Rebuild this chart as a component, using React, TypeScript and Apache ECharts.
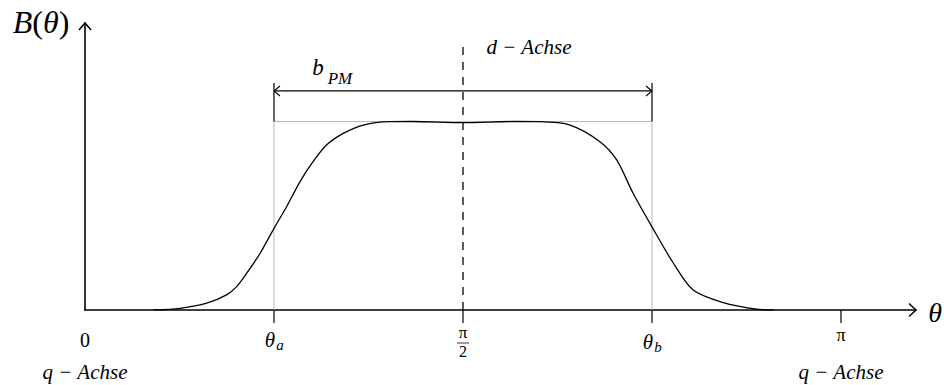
import React, { useEffect, useRef } from "react";
import * as echarts from "echarts";

// Flux density B(θ) over the pole pitch, θ in degrees (π = 180)
const thetaDeg = [
  16.3, 22.6, 29.0, 33.7, 36.1, 38.5, 41.7, 45.0, 48.0, 51.2, 54.0, 57.5, 61.5,
  66.3, 72.6, 78.0, 90.0, 102.0, 108.3, 115.5, 122.6, 126.6, 130.5, 135.2,
  140.1, 144.8, 152.0, 159.9, 163.9,
];
const fluxB = [
  0, 0.009, 0.036, 0.08, 0.124, 0.195, 0.301, 0.433, 0.548, 0.681, 0.778, 0.875,
  0.937, 0.981, 0.999, 1.0, 0.994, 1.0, 0.999, 0.981, 0.893, 0.796, 0.619,
  0.433, 0.248, 0.106, 0.039, 0.004, 0,
];

// Characteristic angles and levels
const THETA_A = 45;
const THETA_D = 90;
const THETA_B = 135;
const THETA_PI = 180;
const B_PEAK = 1;
const DIM_LEVEL = 1.162;
const DIM_BAR_TOP = 1.204;
const D_AXIS_TOP = 1.4;
const X_MAX = 197.86;
const Y_MAX = 1.5225;

// Tick positions along the θ axis
const tickValues = [THETA_A, THETA_D, THETA_B, THETA_PI];

const SERIF = '"Liberation Serif", "DejaVu Serif", serif';
const ink = "#000";
const grey = "#b8b8b8";

function seg(data: number[][], color: string, width: number, type: any = "solid", z = 2) {
  return {
    type: "line",
    data,
    symbol: "none",
    silent: true,
    z,
    lineStyle: { color, width, type },
  };
}

export default function App() {
  const ref = useRef<HTMLDivElement>(null);

  useEffect(() => {
    const el = ref.current;
    if (!el) return;
    const chart = echarts.init(el, null, { renderer: "svg" });

    chart.setOption({
      animation: false,
      backgroundColor: "#fff",
      grid: { left: 85, right: 28, top: 23, bottom: 75 },
      xAxis: {
        type: "value",
        min: 0,
        max: X_MAX,
        axisLine: { show: true, lineStyle: { color: ink, width: 1.6 } },
        axisTick: { show: false },
        axisLabel: { show: false },
        splitLine: { show: false },
      },
      yAxis: {
        type: "value",
        min: 0,
        max: Y_MAX,
        axisLine: { show: true, lineStyle: { color: ink, width: 1.6 } },
        axisTick: { show: false },
        axisLabel: { show: false },
        splitLine: { show: false },
      },
      series: [
        // guide lines of the pole arc
        seg([[THETA_A, 0], [THETA_A, B_PEAK]], grey, 1, "solid", 1),
        seg([[THETA_B, 0], [THETA_B, B_PEAK]], grey, 1, "solid", 1),
        seg([[THETA_A, B_PEAK], [THETA_B, B_PEAK]], grey, 1, "solid", 1),
        // dimension b_PM
        seg([[THETA_A, B_PEAK], [THETA_A, DIM_BAR_TOP]], ink, 1.2),
        seg([[THETA_B, B_PEAK], [THETA_B, DIM_BAR_TOP]], ink, 1.2),
        seg([[THETA_A, DIM_LEVEL], [THETA_B, DIM_LEVEL]], ink, 1.2),
        // d-axis
        seg([[THETA_D, 0], [THETA_D, D_AXIS_TOP]], ink, 1.3, [8, 7], 2),
        {
          type: "line",
          data: thetaDeg.map((t, i) => [t, fluxB[i]]),
          symbol: "none",
          smooth: 0.3,
          z: 3,
          lineStyle: { color: ink, width: 1.3 },
        },
      ],
    });

    const px = (x: number, y: number) =>
      chart.convertToPixel({ gridIndex: 0 }, [x, y]) as number[];

    const o = px(0, 0);
    const xt = px(X_MAX, 0);
    const yt = px(0, Y_MAX);
    const da = px(THETA_A, DIM_LEVEL);
    const db = px(THETA_B, DIM_LEVEL);

    const chevron = (pts: number[][], w = 1.4) => ({
      type: "polyline",
      shape: { points: pts },
      style: { stroke: ink, lineWidth: w, fill: "none" },
      z: 10,
    });
    const txt = (x: number, y: number, text: string, size: number, italic = true, extra: any = {}) => ({
      type: "text",
      x,
      y,
      z: 10,
      style: {
        text,
        font: `${italic ? "italic " : ""}${size}px ${SERIF}`,
        fill: ink,
        align: "center",
        verticalAlign: "middle",
        ...extra,
      },
    });

    const graphics: any[] = [
      chevron([[xt[0] - 7, xt[1] - 6.5], [xt[0], xt[1]], [xt[0] - 7, xt[1] + 6.5]], 1.5),
      chevron([[yt[0] - 6, yt[1] + 7], [yt[0], yt[1]], [yt[0] + 6, yt[1] + 7]], 1.5),
      chevron([[da[0] + 6, da[1] - 5], [da[0], da[1]], [da[0] + 6, da[1] + 5]], 1.1),
      chevron([[db[0] - 6, db[1] - 5], [db[0], db[1]], [db[0] - 6, db[1] + 5]], 1.1),
    ];

    tickValues.forEach((v) => {
      const p = px(v, 0);
      graphics.push({
        type: "line",
        shape: { x1: p[0], y1: p[1], x2: p[0], y2: p[1] + 13 },
        style: { stroke: ink, lineWidth: 1.2 },
        z: 10,
      });
    });

    const pA = px(THETA_A, 0);
    const pD = px(THETA_D, 0);
    const pB = px(THETA_B, 0);
    const pPi = px(THETA_PI, 0);

    graphics.push(
      txt(o[0], o[1] + 30, "0", 20, false),
      txt(pA[0] - 4, o[1] + 30, "θ", 21),
      txt(pA[0] + 6, o[1] + 35, "a", 15),
      // π/2 as a stacked fraction
      txt(pD[0], o[1] + 31, "π", 17, false, { verticalAlign: "bottom" }),
      {
        type: "line",
        shape: { x1: pD[0] - 6, y1: o[1] + 33, x2: pD[0] + 6, y2: o[1] + 33 },
        style: { stroke: ink, lineWidth: 0.8 },
        z: 10,
      },
      txt(pD[0], o[1] + 33, "2", 16, false, { verticalAlign: "top" }),
      txt(pB[0] - 4, o[1] + 32, "θ", 21),
      txt(pB[0] + 6, o[1] + 37, "b", 15),
      txt(pPi[0], o[1] + 25, "π", 18, false),
      txt(o[0], o[1] + 62, "q − Achse", 21),
      txt(pPi[0], o[1] + 62, "q − Achse", 21),
      txt(pD[0] + 66, 47, "d − Achse", 21),
      txt(318, 67, "b", 23),
      txt(340, 78, "PM", 17),
      txt(xt[0] + 19, xt[1] + 2, "θ", 28),
      {
        type: "text",
        x: 41,
        y: 22,
        z: 10,
        style: {
          text: "{i|B}{r|(}{i|θ}{r|)}",
          align: "center",
          verticalAlign: "middle",
          rich: {
            i: { font: `italic 32px ${SERIF}`, fill: ink },
            r: { font: `32px ${SERIF}`, fill: ink },
          },
        },
      }
    );

    chart.setOption({ graphic: graphics });

    return () => chart.dispose();
  }, []);

  return (
    <div
      ref={ref}
      style={{ position: "fixed", left: 0, top: 0, width: 944, height: 385, background: "#fff" }}
    />
  );
}
